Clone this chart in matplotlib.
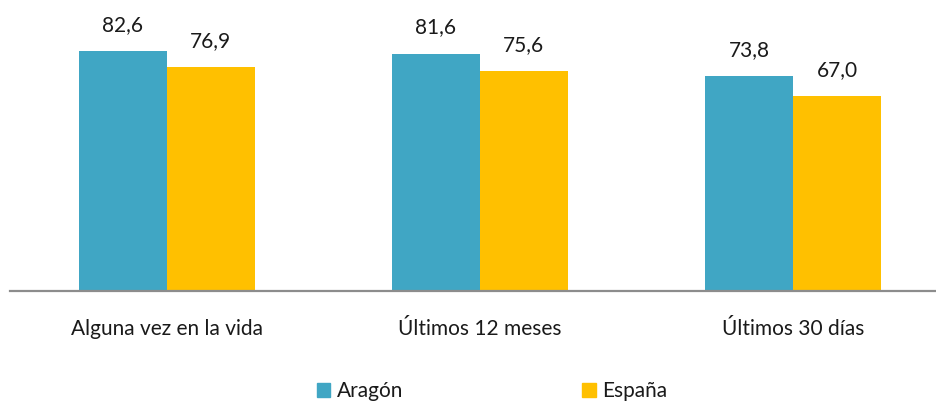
import numpy as np
import matplotlib.pyplot as plt
from matplotlib.patches import Patch

categorias = ['Alguna vez en la vida', 'Últimos 12 meses', 'Últimos 30 días']
aragon = [82.6, 81.6, 73.8]
espana = [76.9, 75.6, 67.0]
series = ['Aragón', 'España']
colores = ['#40A6C4', '#FFC000']

plt.rcParams['font.family'] = ['Lato', 'DejaVu Sans']

fig = plt.figure(figsize=(9.37, 4.03), dpi=100)
ax = fig.add_axes([10 / 937, 1 - 291 / 403, 927 / 937, 291 / 403])

x = np.arange(len(categorias))
w = 0.281
b1 = ax.bar(x - w / 2, aragon, w, color=colores[0])
b2 = ax.bar(x + w / 2, espana, w, color=colores[1])

for bars, vals in ((b1, aragon), (b2, espana)):
    for r, v in zip(bars, vals):
        ax.text(r.get_x() + r.get_width() / 2, v + 5.5, f'{v:.1f}'.replace('.', ','),
                ha='center', va='bottom', fontsize=15, color='#1a1a1a')

ax.set_xlim(-0.5, 2.46)
ax.set_ylim(0, 100)
ax.set_xticks(x)
ax.set_xticklabels(categorias, fontsize=15, color='#1a1a1a')
ax.tick_params(axis='x', length=0, pad=20)
ax.set_yticks([])
for s in ['top', 'right', 'left']:
    ax.spines[s].set_visible(False)
ax.spines['bottom'].set_color('#8c8c8c')
ax.spines['bottom'].set_linewidth(1.6)

handles = [Patch(color=c, label=l) for c, l in zip(colores, series)]
fig.legend(handles=handles, loc='center', bbox_to_anchor=(492 / 937, 1 - 391 / 403),
           ncol=2, frameon=False, fontsize=15, handlelength=0.65, handleheight=0.65,
           handletextpad=0.3, columnspacing=8.6, labelcolor='#1a1a1a')

fig.savefig('out.png', dpi=100)
